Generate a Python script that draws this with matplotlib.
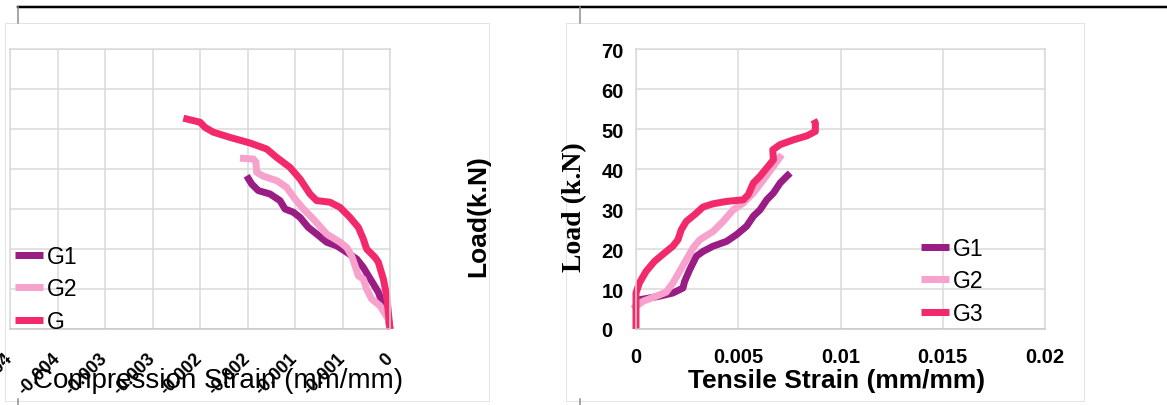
import matplotlib
matplotlib.use("Agg")
import matplotlib.pyplot as plt
from matplotlib.lines import Line2D
from matplotlib.patches import Rectangle

# ---------------- data ----------------
series_names_comp = ["G1", "G2", "G"]
series_names_tens = ["G1", "G2", "G3"]
colors = ["#9A1D84", "#F7A1CD", "#F22A6B"]

# Compression (left chart)
g1_comp_strain = [-0.001509, -0.001456, -0.001386, -0.001263, -0.001158, -0.001105, -0.001018,
                  -0.000947, -0.00086, -0.000772, -0.000667, -0.000561, -0.000456, -0.000351,
                  -0.000281, -0.000228, -0.000175, -0.000123, -0.00007, -0.000018, 0.0]
g1_comp_load = [38.3, 36.25, 34.6, 33.75, 32.1, 30.0, 29.2, 27.9, 25.4, 23.75, 21.7, 20.8, 19.2,
                17.5, 15.4, 13.3, 11.25, 9.2, 5.8, 2.5, 0.0]

g2_comp_strain = [-0.001579, -0.001439, -0.001411, -0.001404, -0.001333, -0.001193, -0.001088,
                  -0.001, -0.000912, -0.000807, -0.000667, -0.000526, -0.000456, -0.000404,
                  -0.000368, -0.000333, -0.000281, -0.000246, -0.000193, -0.000105, -0.000018, 0.0]
g2_comp_load = [42.7, 42.5, 41.7, 39.2, 38.2, 37.1, 35.4, 32.5, 30.0, 27.5, 23.75, 21.7, 20.4,
                18.3, 15.8, 13.3, 12.5, 10.0, 7.5, 5.8, 2.5, 0.0]

g3_comp_strain = [-0.002175, -0.002, -0.001947, -0.00186, -0.001684, -0.001474, -0.001298,
                  -0.001193, -0.001053, -0.000947, -0.000842, -0.000772, -0.000632, -0.000526,
                  -0.000421, -0.000333, -0.000281, -0.000246, -0.000158, -0.000123, -0.00007,
                  -0.000035, 0.0]
g3_comp_load = [52.7, 51.7, 50.4, 49.2, 47.9, 46.5, 45.0, 42.9, 40.4, 37.5, 33.75, 32.1, 31.7,
                30.4, 27.9, 25.4, 22.5, 20.0, 17.9, 16.7, 12.5, 8.3, 0.0]

# Tension (right chart)
g1_tens_strain = [0.000164, 0.001148, 0.001803, 0.002295, 0.002377, 0.002623, 0.002951, 0.003279,
                  0.00377, 0.004426, 0.004918, 0.00541, 0.005738, 0.006066, 0.006393, 0.006721,
                  0.007049, 0.007377, 0.007541]
g1_tens_load = [7.3, 8.2, 9.0, 10.25, 11.9, 14.8, 18.2, 19.4, 20.7, 21.9, 23.6, 25.7, 28.2, 29.8,
                32.3, 34.0, 36.5, 38.2, 39.0]

g2_tens_strain = [-0.000164, 0.000328, 0.000984, 0.001475, 0.001803, 0.002131, 0.002459, 0.002787,
                  0.003115, 0.00377, 0.004262, 0.004754, 0.005246, 0.005738, 0.00623, 0.006721,
                  0.007131]
g2_tens_load = [5.0, 6.9, 8.2, 9.2, 11.5, 14.4, 17.3, 20.25, 22.3, 24.4, 26.9, 29.8, 31.5, 34.0,
                37.3, 40.7, 43.6]

g3_tens_strain = [0.0, 0.0, 0.000164, 0.000492, 0.000902, 0.001393, 0.001803, 0.002049, 0.002213,
                  0.002459, 0.002869, 0.003279, 0.00377, 0.004426, 0.005246, 0.005492, 0.005738,
                  0.006066, 0.006393, 0.006721, 0.006689, 0.007049, 0.007705, 0.008361, 0.00877,
                  0.00877, 0.008689]
g3_tens_load = [0.0, 9.0, 11.5, 14.4, 16.9, 19.0, 20.7, 22.3, 24.8, 26.9, 28.6, 30.5, 31.3, 31.9,
                32.3, 33.6, 36.5, 38.2, 40.25, 42.3, 44.8, 46.1, 47.3, 48.3, 49.4, 51.5, 52.3]

comp_ticks = [-0.004, -0.0035, -0.003, -0.0025, -0.002, -0.0015, -0.001, -0.0005, 0.0]
comp_tick_labels = ["-0.004", "-0.004", "-0.003", "-0.003", "-0.002", "-0.002", "-0.001", "-0.001", "0"]
tens_ticks = [0, 0.005, 0.01, 0.015, 0.02]
tens_tick_labels = ["0", "0.005", "0.01", "0.015", "0.02"]
load_ticks = [0, 10, 20, 30, 40, 50, 60, 70]

# ---------------- figure ----------------
W, H = 1167, 406
plt.rcParams["font.family"] = ["Liberation Sans", "DejaVu Sans"]
fig = plt.figure(figsize=(W / 100, H / 100), dpi=100)


def fx(px):
    return px / W


def fy(py):
    return 1 - py / H


PX = 0.72  # points per pixel
grid_c = "#D9D9D9"
LW = 7 * PX

# document decorations
fig.add_artist(Line2D([fx(18), 1.0], [fy(7.5), fy(7.5)], transform=fig.transFigure,
                      color="black", lw=2.5 * PX))
for xv in (18, 580):
    fig.add_artist(Line2D([fx(xv), fx(xv)], [fy(8), fy(24)], transform=fig.transFigure,
                          color="#8c8c8c", lw=1.5 * PX))
    fig.add_artist(Line2D([fx(xv), fx(xv)], [fy(400), fy(406)], transform=fig.transFigure,
                          color="#8c8c8c", lw=1.5 * PX))
for (x0, x1) in ((5, 489), (566, 1084)):
    fig.add_artist(Rectangle((fx(x0), fy(402)), fx(x1 - x0), (402 - 24) / H,
                             transform=fig.transFigure, fill=False,
                             edgecolor="#E3E3E3", lw=1 * PX))

axL = fig.add_axes([fx(10), fy(330), fx(380), 280 / H])
axR = fig.add_axes([fx(636), fy(330), fx(409), 280 / H])

for ax in (axL, axR):
    ax.set_ylim(0, 70)
    ax.set_yticks(load_ticks)
    ax.grid(True, color=grid_c, lw=1.5 * PX)
    ax.set_axisbelow(True)
    for sp in ax.spines.values():
        sp.set_color(grid_c)
        sp.set_linewidth(1.5 * PX)
    ax.spines["bottom"].set_color("#C8C8C8")
    ax.tick_params(length=0)

# left chart (compression)
axL.set_xlim(-0.004, 0)
axL.set_xticks(comp_ticks)
axL.set_xticklabels(comp_tick_labels, rotation=45, ha="right", va="center",
                    rotation_mode="anchor", fontsize=13, fontweight="bold")
axL.tick_params(axis="x", pad=19)
axL.set_yticklabels([])
for s, l, c, n in zip([g1_comp_strain, g2_comp_strain, g3_comp_strain],
                      [g1_comp_load, g2_comp_load, g3_comp_load], colors, series_names_comp):
    axL.plot(s, l, color=c, lw=LW, label=n, clip_on=False, solid_capstyle="butt")
legL = axL.legend(loc="center left", bbox_to_anchor=(fx(15), fy(290)),
                  bbox_transform=fig.transFigure, frameon=False, fontsize=16.5,
                  borderpad=0, borderaxespad=0, handlelength=1.2, handletextpad=0.2,
                  labelspacing=0.42)
for h in legL.get_lines():
    h.set_linewidth(7 * PX)

# right chart (tension)
axR.set_xlim(0, 0.02)
axR.set_xticks(tens_ticks)
axR.set_xticklabels(tens_tick_labels, fontsize=14.5, fontweight="bold")
axR.tick_params(axis="x", pad=13)
axR.set_yticklabels([str(v) for v in load_ticks], fontsize=14.5, fontweight="bold", ha="left")
axR.tick_params(axis="y", pad=25)
for s, l, c, n in zip([g1_tens_strain, g2_tens_strain, g3_tens_strain],
                      [g1_tens_load, g2_tens_load, g3_tens_load], colors, series_names_tens):
    axR.plot(s, l, color=c, lw=LW, label=n, clip_on=False, solid_capstyle="butt")
legR = axR.legend(loc="center left", bbox_to_anchor=(fx(921), fy(282)),
                  bbox_transform=fig.transFigure, frameon=False, fontsize=16.5,
                  borderpad=0, borderaxespad=0, handlelength=1.2, handletextpad=0.2,
                  labelspacing=0.42)
for h in legR.get_lines():
    h.set_linewidth(7 * PX)

# axis titles
fig.text(fx(218), fy(381), "Compression Strain (mm/mm)", ha="center", va="center",
         fontsize=20)
fig.text(fx(837), fy(381), "Tensile Strain (mm/mm)", ha="center", va="center",
         fontsize=19, fontweight="bold")
fig.text(fx(478), fy(216), "Load(k.N)", ha="center", va="center", rotation=90,
         fontsize=19, fontweight="bold")
fig.text(fx(575), fy(207), "Load (k.N)", ha="center", va="center", rotation=90,
         fontsize=20, fontweight="bold", family=["Liberation Serif", "DejaVu Serif"])

fig.savefig("out.png", dpi=100)
